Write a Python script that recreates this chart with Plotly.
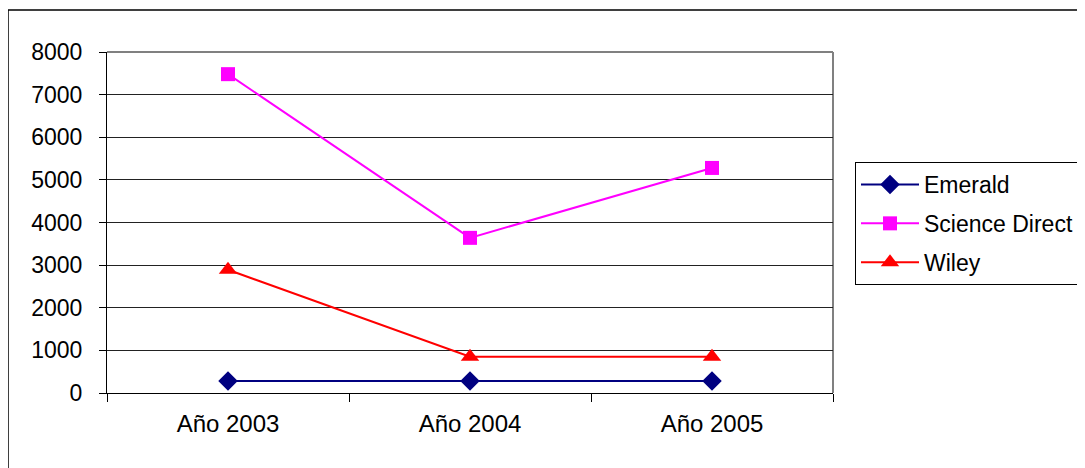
import plotly.graph_objects as go

categories = ["Año 2003", "Año 2004", "Año 2005"]
emerald = [280, 280, 280]
science_direct = [7480, 3640, 5280]
wiley = [2890, 850, 850]
y_ticks = [0, 1000, 2000, 3000, 4000, 5000, 6000, 7000, 8000]

# page has an 8px body margin; work in figure coordinates (reference - 8)
OFF = 8
W, H = 1085 - OFF, 468 - OFF
L, T = 107 - OFF, 52 - OFF
R = W - (833 - OFF)
B = H - (393 - OFF)
pw = W - L - R
ph = H - T - B

def px_x(x):
    return (x - OFF - L) / pw

def px_y(y):
    return (H - B - (y - OFF)) / ph

fig = go.Figure()
series = [
    ("Emerald", emerald, "#000080", "diamond", 15),
    ("Science Direct", science_direct, "#FF00FF", "square", 14),
    ("Wiley", wiley, "#FF0000", "triangle-up", 16),
]
for i, (name, vals, col, sym, ms) in enumerate(series):
    fig.add_trace(go.Scatter(
        x=categories, y=vals, name=name, mode="lines+markers",
        line=dict(color=col, width=2),
        marker=dict(symbol=sym, size=ms, color=col, line=dict(width=0)),
        legendgroup=f"g{i}",
    ))

font = "Liberation Sans, Arial, sans-serif"
fig.update_layout(
    width=W, height=H,
    margin=dict(l=L, r=R, t=T, b=B, autoexpand=False),
    paper_bgcolor="white", plot_bgcolor="white",
    font=dict(family=font, size=23, color="black"),
    showlegend=True,
    legend=dict(
        x=px_x(855), y=px_y(162), xanchor="left", yanchor="top",
        bordercolor="black", borderwidth=1, bgcolor="white",
        font=dict(family=font, size=23, color="black"),
        tracegroupgap=6, traceorder="grouped",
        itemwidth=58,
    ),
    xaxis=dict(
        type="category", range=[-0.5, 2.5], tickson="boundaries",
        ticks="outside", ticklen=8, tickcolor="black", tickwidth=1,
        showline=True, linecolor="black", linewidth=1,
        showgrid=False, ticklabelstandoff=9,
        tickfont=dict(family=font, size=24),
    ),
    yaxis=dict(
        range=[0, 8000], tickvals=y_ticks, ticks="outside", ticklen=7,
        tickcolor="black", tickwidth=1,
        showline=True, linecolor="black", linewidth=1,
        showgrid=True, gridcolor="#222222", gridwidth=1,
        zeroline=False, tickfont=dict(family=font, size=23),
        ticklabelstandoff=12,
    ),
    shapes=[
        dict(type="line", xref="paper", yref="paper", x0=0, x1=1, y0=1, y1=1,
             line=dict(color="#808080", width=2), layer="below"),
        dict(type="line", xref="paper", yref="paper", x0=1, x1=1, y0=0, y1=1,
             line=dict(color="#808080", width=2), layer="below"),
        dict(type="rect", xref="paper", yref="paper",
             x0=px_x(8), x1=px_x(1110), y0=px_y(490), y1=px_y(10),
             line=dict(color="black", width=1.5), layer="below"),
    ],
)

fig.write_html("out.html")
